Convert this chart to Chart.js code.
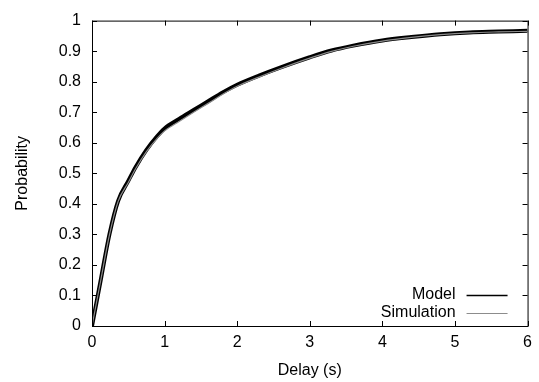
<!DOCTYPE html>
<html>
<head>
<meta charset="utf-8">
<script src="https://cdn.jsdelivr.net/npm/chart.js@4/dist/chart.umd.min.js"></script>
<style>
  html, body { margin: 0; padding: 0; background: #fff; }
  #wrap { width: 539px; height: 382px; }
</style>
</head>
<body>
<div id="wrap"><canvas id="c" width="539" height="382"></canvas></div>
<script>
// Delay (s) sample points for the cumulative delivery probability
const delays = [0, 0.12, 0.24, 0.36, 0.5, 0.6, 0.75, 0.9, 1.0, 1.2, 1.4, 1.6, 1.8, 2.0, 2.3, 2.6, 3.0, 3.3, 3.6, 4.0, 4.4, 4.8, 5.2, 5.6, 6.0];
// Analytical model
const modelProb = [0, 0.15, 0.30, 0.41, 0.475, 0.52, 0.577, 0.622, 0.647, 0.678, 0.707, 0.736, 0.765, 0.79, 0.82, 0.847, 0.88, 0.902, 0.918, 0.935, 0.946, 0.955, 0.961, 0.964, 0.967];
// Simulation results
const simProb = [0, 0.149, 0.298, 0.408, 0.47, 0.515, 0.571, 0.615, 0.639, 0.670, 0.700, 0.729, 0.759, 0.785, 0.815, 0.843, 0.877, 0.899, 0.916, 0.933, 0.945, 0.954, 0.960, 0.963, 0.965];

const xTicks = [0, 1, 2, 3, 4, 5, 6];
const yTicks = [0, 0.1, 0.2, 0.3, 0.4, 0.5, 0.6, 0.7, 0.8, 0.9, 1];
const yTickLabels = ['0', '0.1', '0.2', '0.3', '0.4', '0.5', '0.6', '0.7', '0.8', '0.9', '1'];
const seriesNames = ['Model', 'Simulation'];

const FONT = '"Liberation Sans", Arial, Helvetica, sans-serif';
const toPoints = (xs, ys) => xs.map((x, i) => ({ x: x, y: ys[i] }));

// Frame with inward tick marks on all four sides
const framePlugin = {
  id: 'frame',
  afterDatasetsDraw(chart) {
    const { ctx, chartArea: a, scales } = chart;
    ctx.save();
    ctx.strokeStyle = '#000';
    ctx.lineWidth = 1;
    ctx.strokeRect(a.left + 0.5, a.top + 0.5, a.right - a.left, a.bottom - a.top);
    const len = 5;
    ctx.beginPath();
    xTicks.forEach(v => {
      const px = Math.round(scales.x.getPixelForValue(v)) + 0.5;
      ctx.moveTo(px, a.bottom); ctx.lineTo(px, a.bottom - len);
      ctx.moveTo(px, a.top); ctx.lineTo(px, a.top + len);
    });
    yTicks.forEach(v => {
      const py = Math.round(scales.y.getPixelForValue(v)) + 0.5;
      ctx.moveTo(a.left, py); ctx.lineTo(a.left + len, py);
      ctx.moveTo(a.right, py); ctx.lineTo(a.right - len, py);
    });
    ctx.stroke();
    ctx.restore();
  }
};

// Key in the lower right corner of the plot
const keyPlugin = {
  id: 'key',
  afterDraw(chart) {
    const { ctx, chartArea: a } = chart;
    ctx.save();
    ctx.font = '16px ' + FONT;
    ctx.fillStyle = '#000';
    ctx.textAlign = 'right';
    ctx.textBaseline = 'middle';
    chart.data.datasets.forEach((ds, i) => {
      const y = a.bottom - 31 + i * 18;
      ctx.fillText(ds.label, a.right - 72, y);
      ctx.beginPath();
      ctx.strokeStyle = ds.borderColor;
      ctx.lineWidth = i === 0 ? 1.5 : 1.2;
      ctx.moveTo(a.right - 61, y + 0.5);
      ctx.lineTo(a.right - 20, y + 0.5);
      ctx.stroke();
    });
    ctx.restore();
  }
};

new Chart(document.getElementById('c'), {
  type: 'line',
  data: {
    datasets: [
      {
        label: seriesNames[0],
        data: toPoints(delays, modelProb),
        borderColor: '#000',
        borderWidth: 4,
        pointRadius: 0,
        cubicInterpolationMode: 'monotone',
        order: 2
      },
      {
        label: seriesNames[1],
        data: toPoints(delays, simProb),
        borderColor: '#8c8c8c',
        borderWidth: 1.2,
        pointRadius: 0,
        cubicInterpolationMode: 'monotone',
        order: 1
      }
    ]
  },
  options: {
    responsive: false,
    animation: false,
    devicePixelRatio: 1,
    layout: { padding: { left: 0, right: 11, top: 10, bottom: 0 } },
    plugins: {
      legend: { display: false },
      tooltip: { enabled: false }
    },
    scales: {
      x: {
        type: 'linear',
        min: 0,
        max: 6,
        afterFit(s) { s.height = 56; },
        afterBuildTicks(s) { s.ticks = xTicks.map(v => ({ value: v })); },
        grid: { display: false, drawTicks: false },
        border: { display: false },
        ticks: {
          color: '#000',
          padding: 7,
          maxRotation: 0,
          font: { family: FONT, size: 16 },
          callback: v => String(v)
        },
        title: {
          display: true,
          text: 'Delay (s)',
          color: '#000',
          padding: { top: 0, bottom: 2 },
          font: { family: FONT, size: 16 }
        }
      },
      y: {
        type: 'linear',
        min: 0,
        max: 1,
        afterFit(s) { s.width = 92; },
        afterBuildTicks(s) { s.ticks = yTicks.map(v => ({ value: v })); },
        grid: { display: false, drawTicks: false },
        border: { display: false },
        ticks: {
          color: '#000',
          padding: 11,
          font: { family: FONT, size: 16 },
          callback: (v, i) => yTickLabels[i]
        },
        title: {
          display: true,
          text: 'Probability',
          color: '#000',
          padding: { top: 13, bottom: 0 },
          font: { family: FONT, size: 16 }
        }
      }
    }
  },
  plugins: [framePlugin, keyPlugin]
});
</script>
</body>
</html>
